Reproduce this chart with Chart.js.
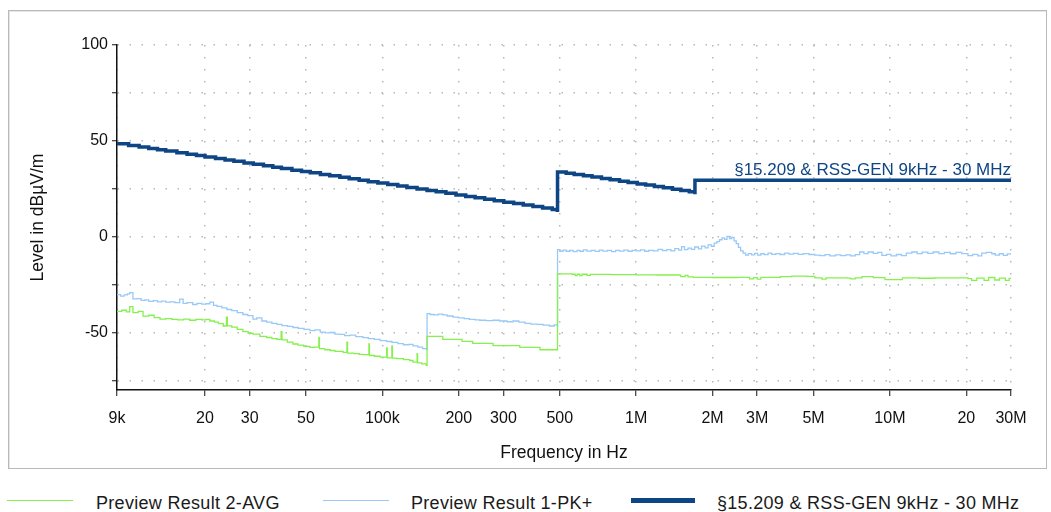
<!DOCTYPE html>
<html>
<head>
<meta charset="utf-8">
<script src="https://cdn.jsdelivr.net/npm/chart.js@4/dist/chart.umd.min.js"></script>
<style>
  html, body { margin: 0; padding: 0; background: #fff; }
  body { width: 1051px; height: 512px; position: relative; overflow: hidden;
         font-family: "Liberation Sans", Arial, sans-serif; }
  #frame { position: absolute; left: 8px; top: 10px; width: 1037px; height: 457px;
           border: 1px solid #b9b9b9; box-shadow: inset 1px 1px 0 #e6e6e6; }
  #chartBox { position: absolute; left: 0; top: 0; width: 1037px; height: 457px; }
  .lg-line { position: absolute; }
  .lg-text { position: absolute; top: 493px; font-size: 18px; line-height: 20px; letter-spacing: 0.3px;
             color: #1a1a1a; white-space: nowrap; }
</style>
</head>
<body>
<div id="frame"><div id="chartBox"><canvas id="emiChart"></canvas></div></div>

<div class="lg-line" style="left:7px;top:500px;width:66px;height:1px;background:#86f04e"></div>
<div class="lg-text" style="left:96px">Preview Result 2-AVG</div>
<div class="lg-line" style="left:323px;top:500px;width:66px;height:1px;background:#99c9f6"></div>
<div class="lg-text" style="left:411px">Preview Result 1-PK+</div>
<div class="lg-line" style="left:631px;top:498px;width:64px;height:5px;background:#0d4585"></div>
<div class="lg-text" style="left:717px">§15.209 &amp; RSS-GEN 9kHz - 30 MHz</div>

<script>
// ============================================
// EMI scan 9 kHz - 30 MHz (frequencies in kHz)
// ============================================

const xTickValues = [9, 20, 30, 50, 100, 200, 300, 500, 1000, 2000, 3000, 5000, 10000, 20000, 30000];
const xTickLabels = ['9k', '20', '30', '50', '100k', '200', '300', '500', '1M', '2M', '3M', '5M', '10M', '20', '30M'];
const yTickValues = [-75, -50, -25, 0, 25, 50, 75, 100];

const limitName = '§15.209 & RSS-GEN 9kHz - 30 MHz';

// Limit line (stepped)
const limitFreq = [
    9, 10, 11, 12, 13, 14, 15.5, 17, 18.5, 20, 22, 24, 26, 28.5, 31, 34, 37, 40, 44, 48,
    52, 57, 62, 68, 74, 81, 88, 96, 105, 115, 125, 137, 150, 163, 178, 195, 213, 232, 253, 276,
    301, 329, 359, 392, 428, 467, 489,
    490, 530, 570, 620, 670, 730, 790, 860, 930, 1010, 1090, 1180, 1280, 1390, 1500, 1620, 1704,
    1705, 30000
];
const limitLevel = [
    48.5, 47.6, 46.8, 46.0, 45.3, 44.7, 43.8, 43.0, 42.3, 41.6, 40.8, 40.0, 39.3, 38.5, 37.8, 37.0, 36.2, 35.6, 34.7, 34.0,
    33.3, 32.5, 31.8, 31.0, 30.2, 29.4, 28.7, 28.0, 27.2, 26.4, 25.7, 24.9, 24.1, 23.4, 22.6, 21.8, 21.0, 20.3, 19.5, 18.8,
    18.0, 17.3, 16.5, 15.7, 15.0, 14.2, 13.8,
    33.8, 33.1, 32.5, 31.8, 31.1, 30.3, 29.7, 28.9, 28.2, 27.5, 26.9, 26.2, 25.5, 24.8, 24.1, 23.4, 23.0,
    29.5, 29.5
];

// Preview Result 1-PK+
const pkFreq = [
    9.0, 9.3, 9.6, 9.9, 10.1, 10.4, 10.8, 11.2, 11.6, 12.0, 12.5, 13.0, 13.5, 14.0, 14.6, 15.2, 15.9, 16.4, 17.0, 17.9,
    18.6, 19.4, 20.2, 20.9, 21.6, 22.3, 23.3, 24.4, 25.5, 26.8, 28.2, 29.5, 30.9, 32.0, 33.5, 35.0, 36.7, 38.4, 40.2, 42.3,
    44.4, 46.6, 49.1, 51.8, 54.2, 56.9, 59.6, 62.2, 65.0, 68.0, 71.0, 74.5, 78.5, 83.9, 88.0, 93.0, 98.0, 104, 109, 115,
    121, 127, 132, 138, 144, 149,
    150, 154, 160, 166, 173, 180, 190, 199, 210, 220, 232, 242, 256, 273, 290, 310, 327, 345, 365, 385,
    407, 430, 455, 475, 489,
    490, 500, 515, 530, 548, 565, 585, 600, 620, 640, 665, 690, 715, 740, 770, 800, 830, 860, 895, 930,
    965, 1000, 1040, 1080, 1120, 1170, 1220, 1270, 1320, 1370, 1420, 1470, 1510, 1550, 1600, 1650, 1700, 1760, 1810, 1870,
    1920, 1980, 2030, 2080, 2130, 2180, 2230, 2280, 2330, 2380, 2430, 2480, 2530, 2580, 2640, 2700, 2770, 2850, 2930, 3010,
    3100, 3200, 3310, 3420, 3550, 3690, 3850, 4000, 4170, 4350, 4550, 4800, 5060, 5300, 5550, 5800, 6100, 6400, 6700, 7000,
    7300, 7600, 7900, 8200, 8600, 8960, 9300, 9700, 10100, 10600, 11100, 11600, 12200, 12800, 13400, 14100, 14800, 15600, 16400, 17300,
    18200, 19200, 20300, 21200, 22200, 23000, 24000, 25200, 26000, 27000, 28000, 29000, 30000
];
const pkLevel = [
    -30.2, -31.0, -30.4, -29.8, -29.2, -32.5, -32.3, -33.2, -33.0, -33.8, -33.4, -34.0, -33.6, -34.2, -34.0, -34.4, -32.6, -34.8, -34.4, -35.4,
    -34.8, -35.2, -35.0, -34.2, -35.8, -36.4, -37.2, -38.0, -38.6, -39.6, -40.6, -41.2, -43.0, -42.4, -44.0, -44.6, -45.2, -45.8, -46.4, -46.8,
    -47.4, -47.8, -48.4, -49.0, -48.6, -49.8, -50.2, -50.0, -50.8, -51.0, -51.6, -51.4, -52.2, -52.7, -53.2, -53.6, -54.2, -54.7, -55.2, -55.8,
    -56.4, -56.2, -57.0, -57.6, -58.4, -58.9,
    -40.2, -40.6, -40.8, -40.4, -40.8, -41.4, -42.0, -42.4, -42.8, -43.2, -43.4, -43.6, -43.8, -43.6, -44.0, -44.4, -44.0, -44.6, -45.2, -45.6,
    -45.8, -46.2, -46.6, -46.0, -46.7,
    -6.8, -7.6, -7.0, -7.6, -7.1, -7.8, -7.2, -7.6, -6.9, -7.5, -7.2, -7.7, -7.0, -7.5, -7.2, -7.8, -7.1, -7.5, -7.0, -7.6,
    -7.2, -7.4, -6.9, -7.6, -7.1, -7.4, -6.6, -7.3, -6.8, -7.4, -6.2, -7.0, -5.2, -6.8, -6.0, -6.6, -5.4, -6.4, -4.9, -5.8,
    -4.3, -5.0, -3.4, -2.6, -1.6, -0.6, -1.4, 0.2, -1.0, -0.4, -2.2, -3.6, -5.6, -7.4, -8.6, -9.6, -8.8, -9.5, -8.7, -9.6,
    -8.9, -9.4, -8.6, -9.2, -8.8, -9.3, -8.6, -9.1, -8.7, -9.2, -8.8, -9.3, -9.6, -9.9, -9.4, -10.0, -9.5, -9.9, -9.5, -10.0,
    -9.4, -8.0, -8.8, -8.0, -8.7, -8.2, -9.8, -9.2, -10.0, -9.3, -9.9, -8.6, -8.0, -8.8, -8.1, -8.7, -8.0, -8.8, -8.2, -8.9,
    -8.2, -8.8, -9.9, -9.2, -10.0, -8.6, -8.2, -8.9, -9.6, -8.9, -9.8, -9.0, -9.4
];

// Preview Result 2-AVG
const avgFreq = [
    9.0, 9.4, 9.8, 10.1, 10.4, 10.9, 11.4, 12.0, 12.6, 13.3, 14.0, 14.8, 15.6, 16.5, 17.4, 18.4, 19.4, 20.2, 20.9, 21.8,
    22.6, 23.6, 24.3, 24.5, 25.5, 26.8, 28.2, 29.6, 30.9, 32.9, 35.0, 36.7, 38.4, 39.9, 40.2, 42.2, 44.4, 46.5, 49.0, 51.8,
    54.0, 56.2, 56.5, 59.3, 62.2, 65.0, 68.0, 70.0, 72.5, 72.9, 77.0, 81.0, 83.9, 88.5, 88.9, 93, 98, 104, 104.5, 109,
    109.5, 114, 121, 128, 132, 137, 137.6, 143, 149,
    150, 173, 206, 227, 273, 348, 418, 489,
    490, 560, 575, 585, 600, 612, 640, 660, 800, 1000, 1200, 1480, 1500, 1560, 1600, 1680, 2000, 2500, 2800, 2900,
    3000, 3100, 3700, 4100, 4700, 5060, 5400, 5600, 6800, 7000, 7300, 7760, 8600, 9560, 11200, 13000, 15000, 20300, 21000, 22000,
    23500, 24500, 25900, 27000, 28500, 29500, 30000
];
const avgLevel = [
    -39.0, -38.4, -39.2, -36.5, -39.6, -39.0, -41.5, -41.0, -42.2, -43.0, -42.8, -43.2, -43.4, -43.0, -43.6, -43.2, -43.4, -43.2, -44.0, -44.6,
    -45.4, -46.6, -42.0, -46.5, -47.2, -48.4, -49.5, -50.4, -50.8, -52.0, -52.6, -53.2, -53.6, -49.5, -53.8, -55.0, -56.0, -56.6, -57.2, -57.8,
    -57.6, -52.6, -58.4, -59.0, -59.4, -59.8, -59.8, -60.4, -55.0, -60.8, -61.0, -61.4, -61.5, -56.0, -62.0, -62.4, -62.8, -58.0, -63.2, -57.0,
    -63.4, -63.6, -64.2, -64.6, -65.5, -61.0, -65.8, -66.4, -67.2,
    -52.0, -53.6, -54.6, -55.7, -56.8, -57.8, -59.0, -59.0,
    -19.4, -19.6, -20.3, -19.6, -20.3, -19.6, -20.2, -19.7, -19.8, -19.9, -20.0, -20.1, -20.8, -20.2, -21.0, -21.2, -21.3, -21.2, -22.0, -21.4,
    -22.2, -21.2, -20.8, -20.6, -20.7, -21.5, -22.2, -21.5, -21.6, -22.0, -21.5, -20.8, -21.4, -22.4, -21.5, -21.7, -21.5, -21.9, -22.8, -21.6,
    -22.8, -21.3, -22.6, -21.6, -22.8, -21.8, -21.8
];

const colors = {
    avg: '#86f04e',
    pk: '#99c9f6',
    limit: '#0d4585',
    grid: '#b8b8b8',
    axis: '#111111',
    text: '#111111'
};

const fontFamily = '"Liberation Sans", Arial, sans-serif';

function toPoints(freqs, levels) {
    return freqs.map((f, i) => ({ x: f, y: levels[i] }));
}

// Label over the limit line
const limitLabel = {
    id: 'limitLabel',
    afterDatasetsDraw(chart) {
        const { ctx, scales } = chart;
        const last = limitFreq.length - 1;
        const px = scales.x.getPixelForValue(limitFreq[last]);
        const py = scales.y.getPixelForValue(limitLevel[last]);
        ctx.save();
        ctx.font = '17px ' + fontFamily;
        ctx.fillStyle = colors.limit;
        ctx.textAlign = 'right';
        ctx.textBaseline = 'alphabetic';
        ctx.fillText(limitName, px, py - 5);
        ctx.restore();
    }
};

const canvas = document.getElementById('emiChart');
const ctx = canvas.getContext('2d');

new Chart(ctx, {
    type: 'line',
    data: {
        datasets: [
            {
                label: 'Preview Result 2-AVG',
                data: toPoints(avgFreq, avgLevel),
                borderColor: colors.avg,
                borderWidth: 1.3,
                pointRadius: 0,
                stepped: true,
                fill: false
            },
            {
                label: 'Preview Result 1-PK+',
                data: toPoints(pkFreq, pkLevel),
                borderColor: colors.pk,
                borderWidth: 1.3,
                pointRadius: 0,
                stepped: true,
                fill: false
            },
            {
                label: limitName,
                data: toPoints(limitFreq, limitLevel),
                borderColor: colors.limit,
                borderWidth: 3.5,
                pointRadius: 0,
                stepped: true,
                fill: false
            }
        ]
    },
    options: {
        responsive: true,
        maintainAspectRatio: false,
        animation: false,
        layout: { padding: { top: 34, right: 35, left: 0, bottom: 0 } },
        plugins: {
            legend: { display: false },
            tooltip: { enabled: false }
        },
        scales: {
            x: {
                type: 'logarithmic',
                min: 9,
                max: 30000,
                afterBuildTicks: (scale) => {
                    scale.ticks = xTickValues.map(v => ({ value: v }));
                },
                afterFit: (scale) => { scale.height = 78; },
                ticks: {
                    autoSkip: false,
                    maxRotation: 0,
                    padding: 13,
                    color: colors.text,
                    font: { size: 16, family: fontFamily },
                    callback: (val, i) => xTickLabels[i]
                },
                grid: {
                    color: colors.grid,
                    lineWidth: 1.5,
                    tickColor: colors.axis,
                    tickLength: 6,
                    tickWidth: 1
                },
                border: { display: true, color: colors.axis, width: 1.5, dash: [1.5, 10.5] },
                title: {
                    display: true,
                    text: 'Frequency in Hz',
                    color: colors.text,
                    font: { size: 17.5, family: fontFamily },
                    padding: { bottom: 4 }
                }
            },
            y: {
                min: -80,
                max: 100,
                afterBuildTicks: (scale) => {
                    scale.ticks = yTickValues.map(v => ({ value: v }));
                },
                afterFit: (scale) => { scale.width = 108; },
                ticks: {
                    padding: 4,
                    color: colors.text,
                    font: { size: 16, family: fontFamily },
                    callback: (val) => (val % 50 === 0 ? String(val) : '')
                },
                grid: {
                    color: colors.grid,
                    lineWidth: 1.5,
                    tickColor: colors.axis,
                    tickLength: 5,
                    tickWidth: 1
                },
                border: { display: true, color: colors.axis, width: 1.5, dash: [1.5, 10.5] },
                title: {
                    display: true,
                    text: 'Level in dBµV/m',
                    color: colors.text,
                    font: { size: 17.5, family: fontFamily },
                    padding: { top: 19 }
                }
            }
        }
    },
    plugins: [limitLabel]
});
</script>
</body>
</html>
